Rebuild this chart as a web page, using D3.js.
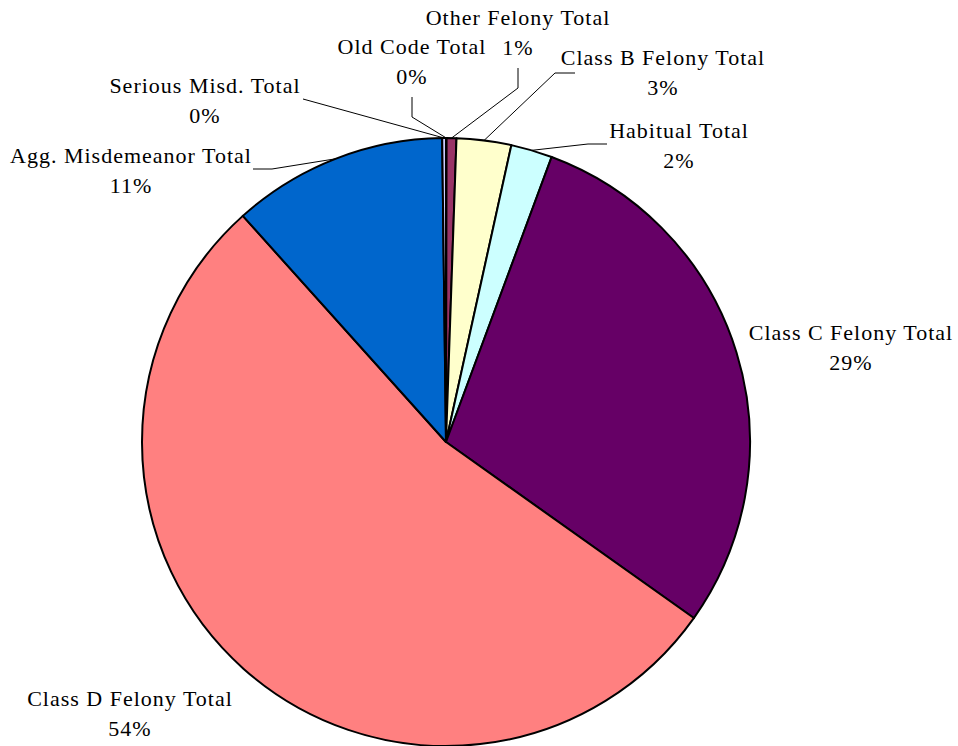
<!DOCTYPE html>
<html>
<head>
<meta charset="utf-8">
<script src="https://cdn.jsdelivr.net/npm/d3@7"></script>
<style>
  html, body { margin: 0; padding: 0; background: #ffffff; }
  svg { display: block; }
  text { font-family: "Liberation Serif", "Times New Roman", serif; fill: #000; }
</style>
</head>
<body>
<svg id="chart" width="958" height="746"></svg>
<script>
// Offense categories, in slice order (clockwise from 12 o'clock)
const categories = [
  "Old Code Total",
  "Other Felony Total",
  "Class B Felony Total",
  "Habitual Total",
  "Class C Felony Total",
  "Class D Felony Total",
  "Agg. Misdemeanor Total",
  "Serious Misd. Total"
];

// Share of total (percent)
const shares = [0.03, 0.52, 2.9, 2.2, 29.18, 53.52, 11.45, 0.2];

// Slice fills
const sliceColors = ["#9999FF", "#993366", "#FFFFCC", "#CCFFFF", "#660066", "#FF8080", "#0066CC", "#CCCCFF"];

const data = categories.map((c, i) => ({ category: c, value: shares[i], color: sliceColors[i] }));

const svg = d3.select("#chart");
const cx = 446, cy = 442, radius = 304;

// Label placement: centre of the name line, plus optional leader-line bend points
const labelLayout = {
  "Old Code Total":        { x: 412, y: 46,  leader: [[412, 97], [412, 117]] },
  "Other Felony Total":    { x: 518, y: 17,  leader: [[518, 68], [518, 88]] },
  "Class B Felony Total":  { x: 663, y: 57,  leader: [[575, 73], [555, 73]] },
  "Habitual Total":        { x: 679, y: 130, leader: [[607, 144], [588, 144]] },
  "Class C Felony Total":  { x: 851, y: 332, leader: null },
  "Class D Felony Total":  { x: 130, y: 698, leader: null },
  "Agg. Misdemeanor Total":{ x: 131, y: 155, leader: [[253, 169], [272, 169]] },
  "Serious Misd. Total":   { x: 205, y: 85,  leader: [[303, 99]] }
};

const total = d3.sum(data, d => d.value);
const pctFmt = d3.format(".0%");

const pie = d3.pie().value(d => d.value).sort(null).startAngle(0).endAngle(2 * Math.PI);
const arcs = pie(data);

const arc = d3.arc().innerRadius(0).outerRadius(radius);

const g = svg.append("g").attr("transform", `translate(${cx},${cy})`);

g.selectAll("path.slice")
  .data(arcs)
  .join("path")
  .attr("class", "slice")
  .attr("d", arc)
  .attr("fill", d => d.data.color)
  .attr("stroke", "#000")
  .attr("stroke-width", 2)
  .attr("stroke-linejoin", "round");

// Leader lines from label to the outer edge of each slice at its mid-angle
const line = d3.line();
arcs.forEach(a => {
  const lay = labelLayout[a.data.category];
  if (!lay.leader) return;
  const mid = (a.startAngle + a.endAngle) / 2;
  const edge = [cx + radius * Math.sin(mid), cy - radius * Math.cos(mid)];
  const pts = lay.leader.concat([edge]);
  svg.append("path")
    .attr("d", line(pts))
    .attr("fill", "none")
    .attr("stroke", "#000")
    .attr("stroke-width", 1);
});

// Two-line labels: category name and percentage
const fontSize = 22;
arcs.forEach(a => {
  const lay = labelLayout[a.data.category];
  const t = svg.append("text")
    .attr("text-anchor", "middle")
    .attr("font-size", fontSize)
    .attr("letter-spacing", 1);
  t.append("tspan")
    .attr("x", lay.x)
    .attr("y", lay.y + fontSize * 0.35)
    .text(a.data.category);
  t.append("tspan")
    .attr("x", lay.x)
    .attr("y", lay.y + 30 + fontSize * 0.35)
    .text(pctFmt(a.data.value / total));
});
</script>
</body>
</html>
